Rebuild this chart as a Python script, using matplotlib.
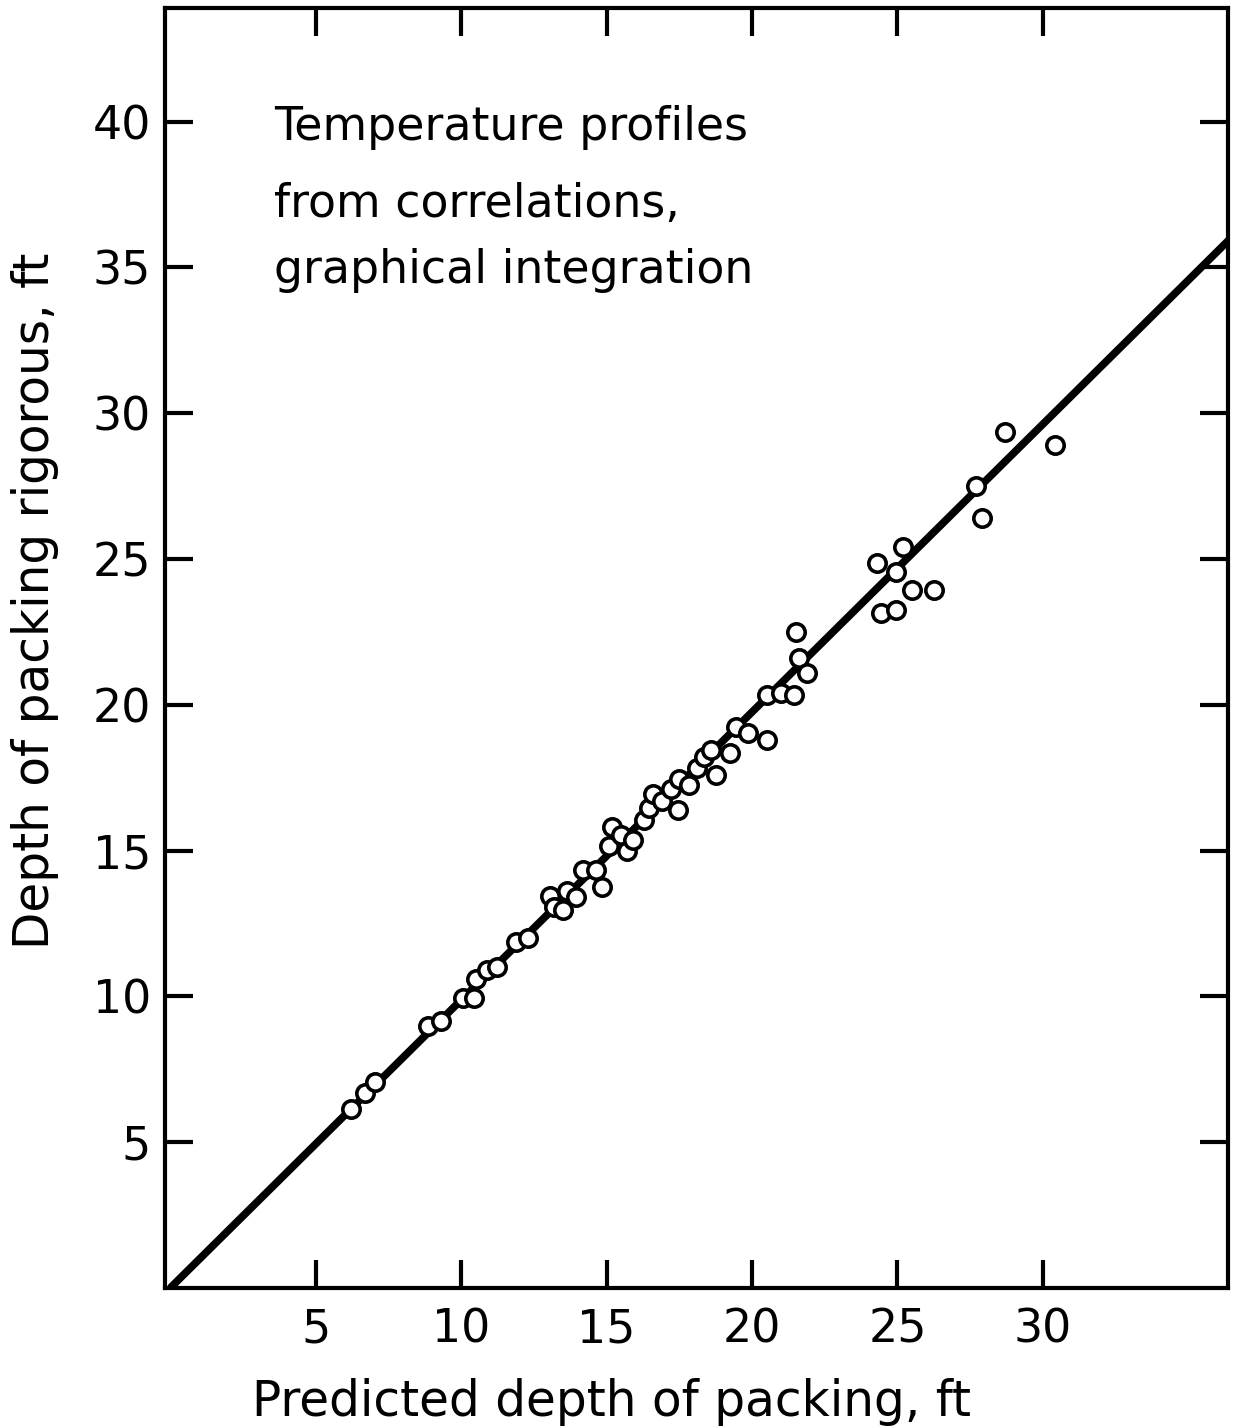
import matplotlib
matplotlib.use("Agg")
import matplotlib.pyplot as plt

# predicted vs rigorous depth of packing, ft
pred_depth = [6.2, 6.7, 7.05, 8.85, 9.3, 10.05, 10.45, 10.5, 10.9, 11.25,
              11.9, 12.3, 13.05, 13.2, 13.5, 13.65, 13.95, 14.2, 14.65, 14.85,
              15.1, 15.2, 15.5, 15.7, 15.9, 16.3, 16.45, 16.6, 16.9, 17.2,
              17.45, 17.5, 17.85, 18.1, 18.35, 18.6, 18.75, 19.25, 19.45, 19.85,
              20.5, 20.5, 21.0, 21.45, 21.6, 21.9, 21.5,
              24.3, 24.45, 24.95, 24.95, 25.2, 25.5, 26.25, 27.7, 27.9, 28.7, 30.4]
rig_depth = [6.15, 6.7, 7.05, 9.0, 9.15, 9.95, 9.95, 10.6, 10.9, 11.0,
             11.85, 12.0, 13.45, 13.05, 12.95, 13.6, 13.4, 14.35, 14.35, 13.75,
             15.15, 15.8, 15.55, 15.0, 15.35, 16.05, 16.45, 16.95, 16.7, 17.1,
             16.4, 17.45, 17.25, 17.85, 18.2, 18.45, 17.6, 18.35, 19.25, 19.05,
             18.8, 20.35, 20.4, 20.35, 21.6, 21.1, 22.5,
             24.85, 23.15, 24.55, 23.25, 25.4, 23.95, 23.95, 27.5, 26.4, 29.35, 28.9]

fit_x = [0, 36.4]
fit_y = [0, 35.95]

x_ticks = [5, 10, 15, 20, 25, 30]
y_ticks = [5, 10, 15, 20, 25, 30, 35, 40]

note_lines = ['Temperature profiles', 'from correlations,', 'graphical integration']

plt.rcParams['font.family'] = ['DejaVu Sans']

fig = plt.figure(figsize=(12.35, 14.26), dpi=100)
ax = fig.add_axes([0.1336, 0.0968, 0.8607, 0.8976])

ax.plot(fit_x, fit_y, color='black', lw=5.5, solid_capstyle='butt', zorder=2)
ax.plot(pred_depth, rig_depth, 'o', ms=12.5, mfc='white', mec='black', mew=2.6, zorder=3)

ax.set_xlim(-0.18, 36.36)
ax.set_ylim(0, 43.9)
ax.set_xticks(x_ticks)
ax.set_yticks(y_ticks)
ax.set_xticklabels([str(t) for t in x_ticks])
ax.set_yticklabels([str(t) for t in y_ticks])

for s in ax.spines.values():
    s.set_linewidth(3)
ax.tick_params(direction='in', length=20, width=3, top=True, right=True,
               labelsize=33)
ax.tick_params(axis='x', pad=14)
ax.tick_params(axis='y', pad=10)

ax.set_xlabel('Predicted depth of packing, ft', fontsize=35)
ax.set_ylabel('Depth of packing rigorous, ft', fontsize=35)
ax.xaxis.set_label_coords(0.42, -0.0703)
ax.yaxis.set_label_coords(-0.10, 0.537)

# the note, one line at a time
for txt, yy in zip(note_lines, [0.897, 0.837, 0.785]):
    ax.text(0.103, yy, txt, transform=ax.transAxes, fontsize=33,
            va='baseline', ha='left')

fig.savefig('out.png', dpi=100)
